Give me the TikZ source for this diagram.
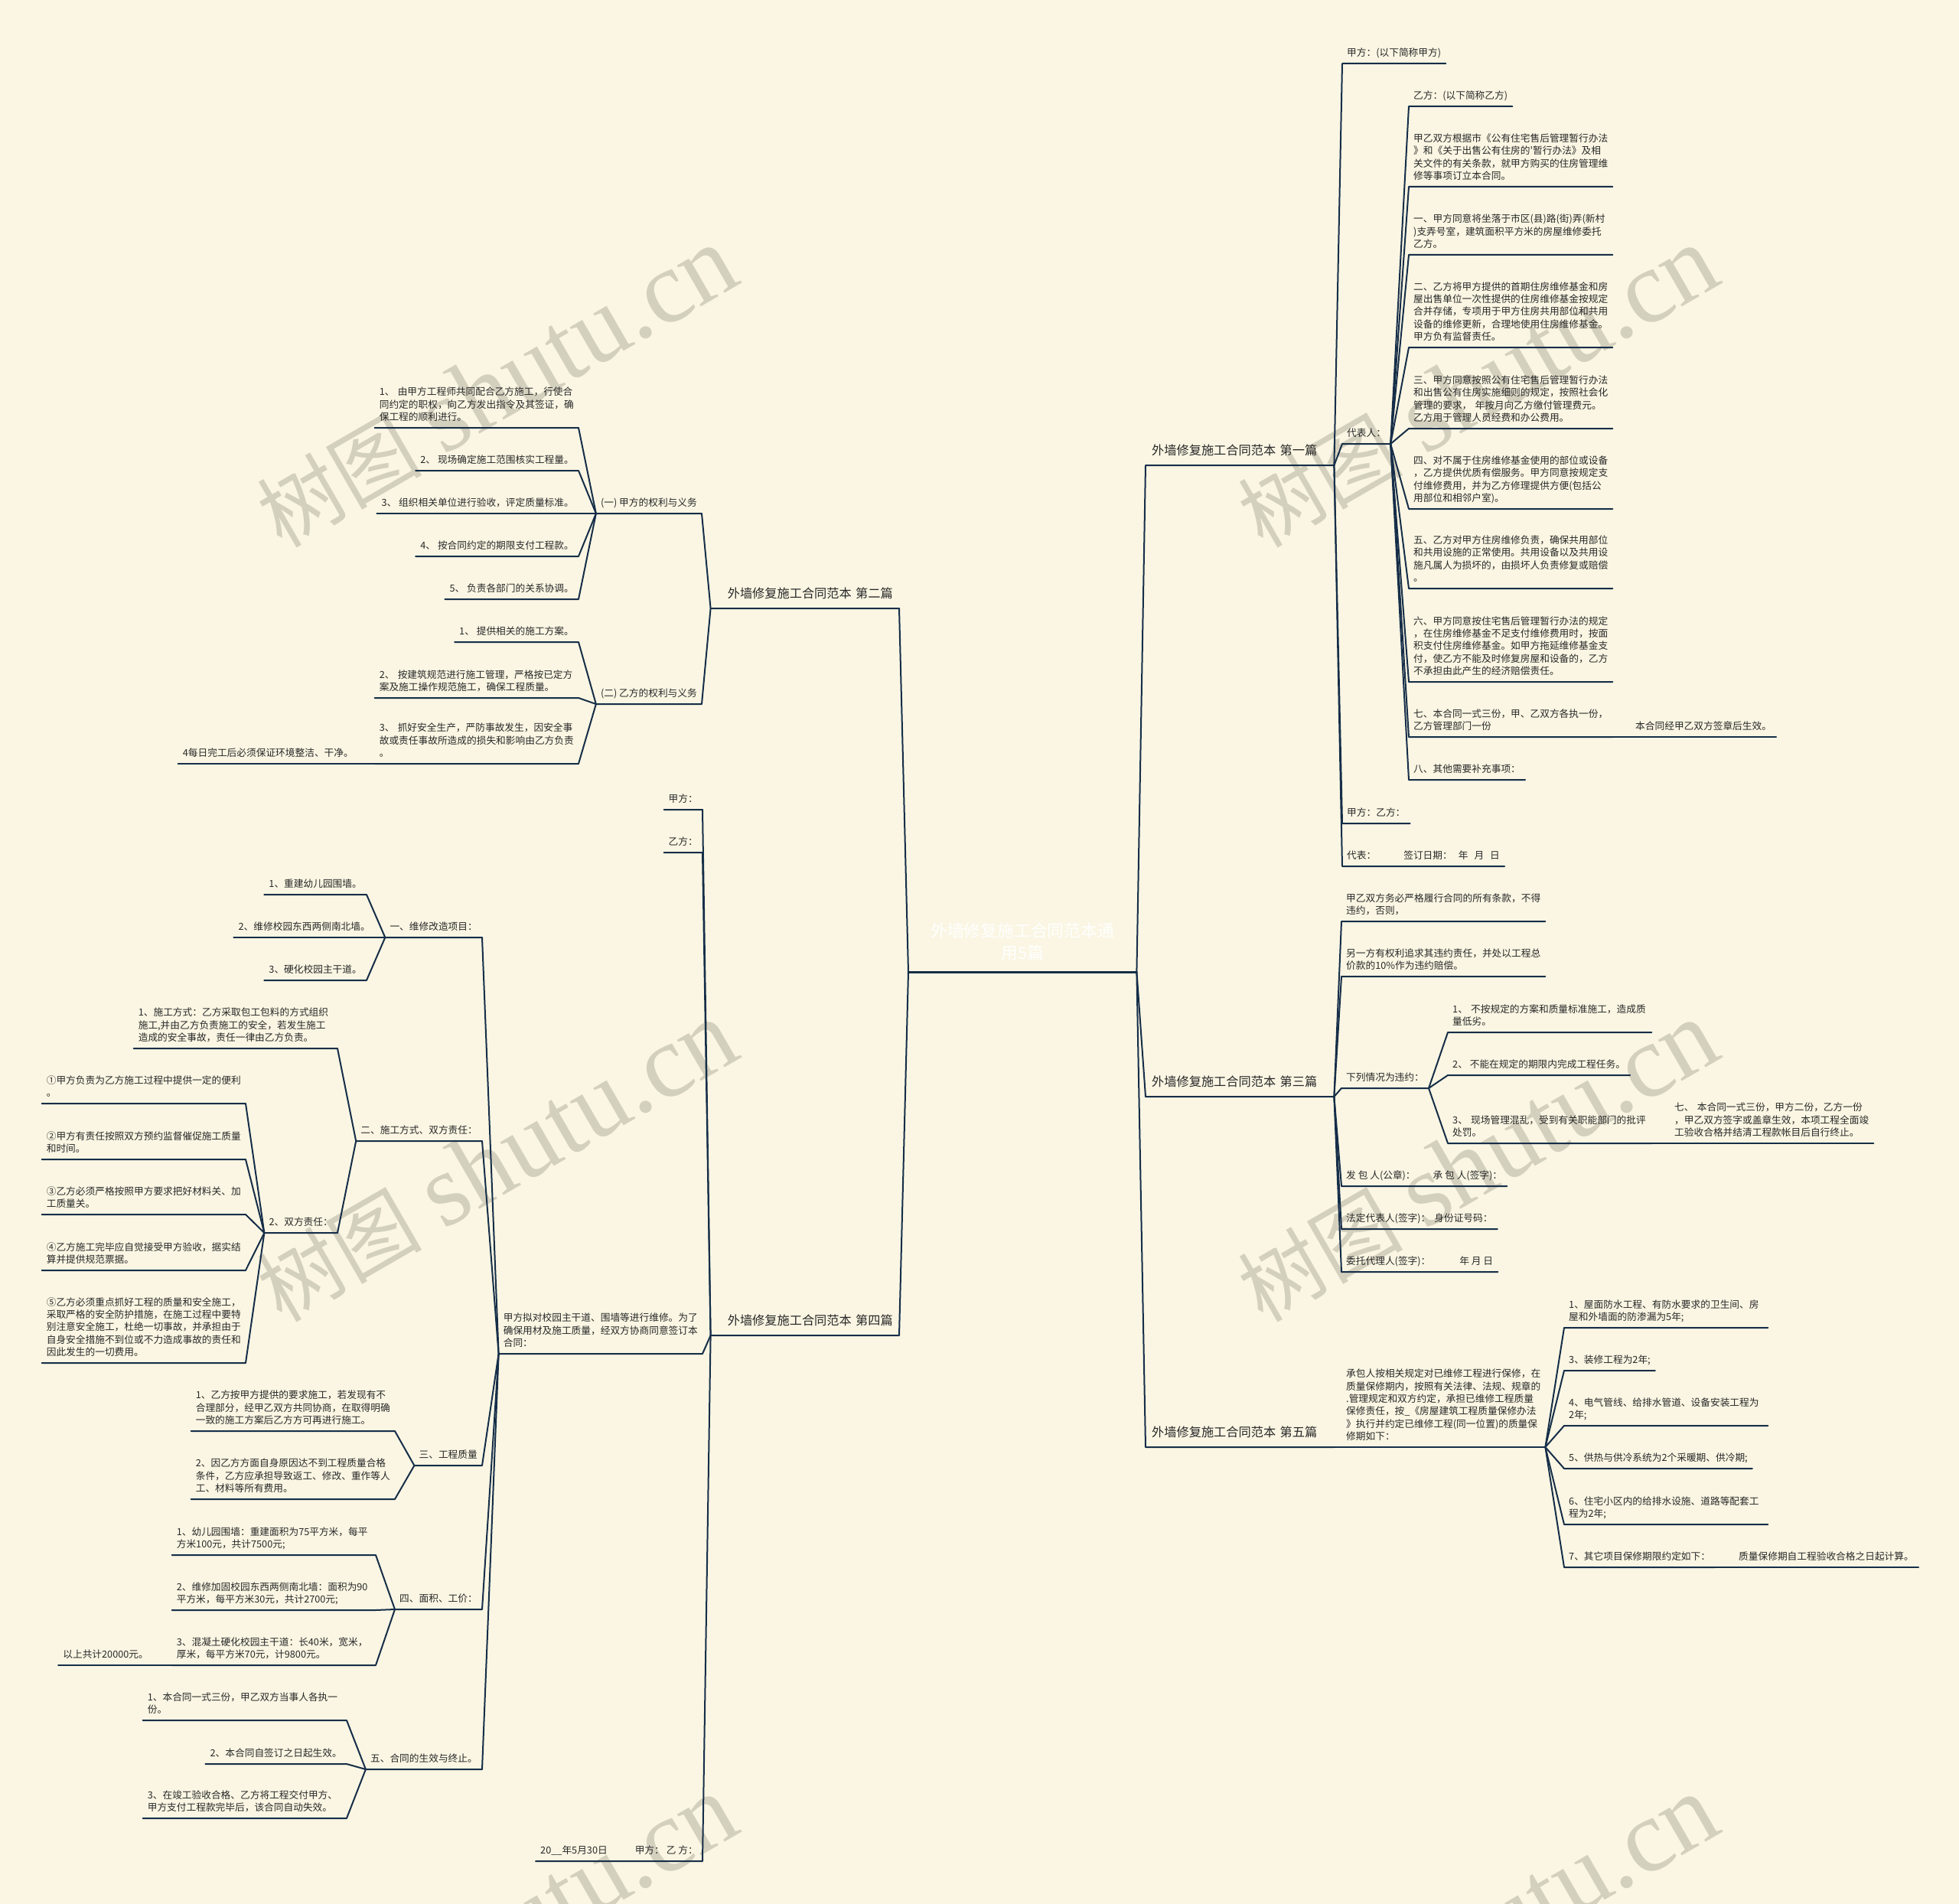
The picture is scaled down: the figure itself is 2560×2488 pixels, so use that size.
\documentclass[tikz,border=0pt]{standalone}
\usepackage{fontspec}
\newfontfamily\cjk{Noto Sans CJK SC}
\newfontfamily\serifwm{Liberation Serif}
\definecolor{paper}{RGB}{250,246,227}
\definecolor{ink}{RGB}{22,46,72}
\definecolor{words}{RGB}{40,40,40}
\definecolor{stamp}{RGB}{212,208,190}

\begin{document}
\begin{tikzpicture}[x=1pt,y=-1pt,
    link/.style={draw=ink,line width=2pt,line join=round,line cap=round},
    txt/.style={font=\cjk\fontsize{12.7}{16.3}\selectfont,text=words,
      inner xsep=6pt,inner ysep=4.6pt,align=left,execute at end node={\strut}},
    toleft/.style={txt,anchor=south east},
    toright/.style={txt,anchor=south west},
    longtxt/.style={text width=254pt},
    chapter/.style={font=\cjk\fontsize{16.2}{20}\selectfont,text=words,
      inner xsep=8pt,inner ysep=7pt,text width=230pt,execute at end node={\strut}},
    hub/.style={font=\cjk\fontsize{21.8}{29}\selectfont,text=white,
      inner xsep=8pt,inner ysep=8pt,text width=282pt,align=center,
      anchor=south west,execute at end node={\strut}},
    stampmark/.style={text=stamp,rotate=30,inner sep=0pt}]

    \useasboundingbox (0,0) rectangle (2560,2488);
    \fill[paper] (0,0) rectangle (2560,2488);% the paper
    \begin{scope}% watermark
    \clip (0,0) rectangle (2560,2488);
    \foreach \wx/\wy [count=\k] in {649/506,1931/506,649/1518,1931/1518,649/2530,1931/2530}
        \node[stampmark] (wm\k) at (\wx,\wy) {{\cjk\fontsize{108}{110}\selectfont 树图}\hspace{28pt}{\serifwm\fontsize{135}{140}\selectfont shutu.cn}};
    \end{scope}

    % title in the middle
    \node[hub] (root) at (1187,1270) {外墙修复施工合同范本通\\用5篇};
    \draw[link,line width=3pt] (root.south west) -- (root.south east);% title line

    % first contract, right
    \node[chapter,align=left,anchor=south west] (c1) at (1497,608) {外墙修复施工合同范本 第一篇};
    \draw[link] (root.south east) -- (c1.south west) -- (c1.south east);
    \node[toright] (a1) at (1754,83) {甲方：(以下简称甲方)};
    \node[toright] (a2) at (1754,580) {代表人：};
    \node[toright] (a3) at (1754,1076) {甲方：乙方：};
    \node[toright] (a4) at (1754,1132) {代表：\hspace{36pt}签订日期：\hspace{8pt}年\hspace{8pt}月\hspace{8pt}日};
    \draw[link] (c1.south east) -- (a1.south west) -- (a1.south east);
    \draw[link] (c1.south east) -- (a2.south west) -- (a2.south east);
    \draw[link] (c1.south east) -- (a3.south west) -- (a3.south east);
    \draw[link] (c1.south east) -- (a4.south west) -- (a4.south east);
    \node[toright] (b1) at (1841,139) {乙方：(以下简称乙方)};
    \node[toright,longtxt] (b2) at (1841,244) {甲乙双方根据市《公有住宅售后管理暂行办法\\》和《关于出售公有住房的'暂行办法》及相\\关文件的有关条款，就甲方购买的住房管理维\\修等事项订立本合同。};
    \node[toright,longtxt] (b3) at (1841,333) {一、甲方同意将坐落于市区(县)路(街)弄(新村\\)支弄号室，建筑面积平方米的房屋维修委托\\乙方。};
    \node[toright,longtxt] (b4) at (1841,454) {二、乙方将甲方提供的首期住房维修基金和房\\屋出售单位一次性提供的住房维修基金按规定\\合并存储，专项用于甲方住房共用部位和共用\\设备的维修更新，合理地使用住房维修基金。\\甲方负有监督责任。};
    \node[toright,longtxt] (b5) at (1841,560) {三、甲方同意按照公有住宅售后管理暂行办法\\和出售公有住房实施细则的规定，按照社会化\\管理的要求， 年按月向乙方缴付管理费元。\\乙方用于管理人员经费和办公费用。};
    \node[toright,longtxt] (b6) at (1841,665) {四、对不属于住房维修基金使用的部位或设备\\，乙方提供优质有偿服务。甲方同意按规定支\\付维修费用，并为乙方修理提供方便(包括公\\用部位和相邻户室)。};
    \node[toright,longtxt] (b7) at (1841,769) {五、乙方对甲方住房维修负责，确保共用部位\\和共用设施的正常使用。共用设备以及共用设\\施凡属人为损坏的，由损坏人负责修复或赔偿\\。};
    \node[toright,longtxt] (b8) at (1841,891) {六、甲方同意按住宅售后管理暂行办法的规定\\，在住房维修基金不足支付维修费用时，按面\\积支付住房维修基金。如甲方拖延维修基金支\\付，使乙方不能及时修复房屋和设备的，乙方\\不承担由此产生的经济赔偿责任。};
    \node[toright,longtxt] (b9) at (1841,963) {七、本合同一式三份，甲、乙双方各执一份，\\乙方管理部门一份};
    \node[toright] (b10) at (1841,1019) {八、其他需要补充事项：};
    \node[toright] (b9x) at (2131,963) {本合同经甲乙双方签章后生效。};
    \draw[link] (a2.south east) -- (b1.south west) -- (b1.south east);
    \draw[link] (a2.south east) -- (b2.south west) -- (b2.south east);
    \draw[link] (a2.south east) -- (b3.south west) -- (b3.south east);
    \draw[link] (a2.south east) -- (b4.south west) -- (b4.south east);
    \draw[link] (a2.south east) -- (b5.south west) -- (b5.south east);
    \draw[link] (a2.south east) -- (b6.south west) -- (b6.south east);
    \draw[link] (a2.south east) -- (b7.south west) -- (b7.south east);
    \draw[link] (a2.south east) -- (b8.south west) -- (b8.south east);
    \draw[link] (a2.south east) -- (b9.south west) -- (b9.south east);
    \draw[link] (a2.south east) -- (b10.south west) -- (b10.south east);
    \draw[link] (b9.south east) -- (b9x.south west) -- (b9x.south east);

    % third contract, right
    \node[chapter,align=left,anchor=south west] (c3) at (1497,1433) {外墙修复施工合同范本 第三篇};
    \draw[link] (root.south east) -- (c3.south west) -- (c3.south east);
    \node[toright,longtxt] (d1) at (1753,1204) {甲乙双方务必严格履行合同的所有条款，不得\\违约，否则，};
    \node[toright,longtxt] (d2) at (1753,1276) {另一方有权利追求其违约责任，并处以工程总\\价款的10\%作为违约赔偿。};
    \node[toright] (d3) at (1753,1422) {下列情况为违约：};
    \node[toright] (d4) at (1753,1550) {发 包 人(公章)：\hspace{23pt}承 包 人(签字)：};
    \node[toright] (d5) at (1753,1606) {法定代表人(签字)：\hspace{5pt}身份证号码：};
    \node[toright] (d6) at (1753,1662) {委托代理人(签字)：\hspace{38pt}年 月 日};
    \draw[link] (c3.south east) -- (d1.south west) -- (d1.south east);
    \draw[link] (c3.south east) -- (d2.south west) -- (d2.south east);
    \draw[link] (c3.south east) -- (d3.south west) -- (d3.south east);
    \draw[link] (c3.south east) -- (d4.south west) -- (d4.south east);
    \draw[link] (c3.south east) -- (d5.south west) -- (d5.south east);
    \draw[link] (c3.south east) -- (d6.south west) -- (d6.south east);
    \node[toright,longtxt] (e1) at (1892,1349) {1、 不按规定的方案和质量标准施工，造成质\\量低劣。};
    \node[toright] (e2) at (1892,1405) {2、 不能在规定的期限内完成工程任务。};
    \node[toright,longtxt] (e3) at (1892,1494) {3、 现场管理混乱，受到有关职能部门的批评\\处罚。};
    \node[toright,longtxt] (f1) at (2182,1494) {七、 本合同一式三份，甲方二份，乙方一份\\，甲乙双方签字或盖章生效，本项工程全面竣\\工验收合格并结清工程款帐目后自行终止。};
    \draw[link] (d3.south east) -- (e1.south west) -- (e1.south east);
    \draw[link] (d3.south east) -- (e2.south west) -- (e2.south east);
    \draw[link] (d3.south east) -- (e3.south west) -- (e3.south east);
    \draw[link] (e3.south east) -- (f1.south west) -- (f1.south east);

    % fifth contract, right
    \node[chapter,align=left,anchor=south west] (c5) at (1497,1891) {外墙修复施工合同范本 第五篇};
    \draw[link] (root.south east) -- (c5.south west) -- (c5.south east);
    \node[toright,longtxt] (g1) at (1753,1891) {承包人按相关规定对已维修工程进行保修，在\\质量保修期内，按照有关法律、法规、规章的\\.管理规定和双方约定，承担已维修工程质量\\保修责任，按\_《房屋建筑工程质量保修办法\\》执行并约定已维修工程(同一位置)的质量保\\修期如下：};
    \draw[link] (c5.south east) -- (g1.south west) -- (g1.south east);
    \node[toright,longtxt] (h1) at (2044,1735) {1、屋面防水工程、有防水要求的卫生间、房\\屋和外墙面的防渗漏为5年;};
    \node[toright] (h2) at (2044,1791) {3、装修工程为2年;};
    \node[toright,longtxt] (h3) at (2044,1863) {4、电气管线、给排水管道、设备安装工程为\\2年;};
    \node[toright] (h4) at (2044,1919) {5、供热与供冷系统为2个采暖期、供冷期;};
    \node[toright,longtxt] (h5) at (2044,1992) {6、住宅小区内的给排水设施、道路等配套工\\程为2年;};
    \node[toright] (h6) at (2044,2048) {7、其它项目保修期限约定如下：};
    \node[toright] (h6x) at (2266,2048) {质量保修期自工程验收合格之日起计算。};
    \draw[link] (g1.south east) -- (h1.south west) -- (h1.south east);
    \draw[link] (g1.south east) -- (h2.south west) -- (h2.south east);
    \draw[link] (g1.south east) -- (h3.south west) -- (h3.south east);
    \draw[link] (g1.south east) -- (h4.south west) -- (h4.south east);
    \draw[link] (g1.south east) -- (h5.south west) -- (h5.south east);
    \draw[link] (g1.south east) -- (h6.south west) -- (h6.south east);
    \draw[link] (h6.south east) -- (h6x.south west) -- (h6x.south east);

    % second contract, left
    \node[chapter,align=right,anchor=south east] (c2) at (1175,795) {外墙修复施工合同范本 第二篇};
    \draw[link] (root.south west) -- (c2.south east) -- (c2.south west);
    \node[toleft] (p1) at (917,671) {(一) 甲方的权利与义务};
    \node[toleft] (p2) at (917,920) {(二) 乙方的权利与义务};
    \draw[link] (c2.south west) -- (p1.south east) -- (p1.south west);
    \draw[link] (c2.south west) -- (p2.south east) -- (p2.south west);
    \node[toleft,longtxt] (q1) at (756,559) {1、 由甲方工程师共同配合乙方施工，行使合\\同约定的职权，向乙方发出指令及其签证，确\\保工程的顺利进行。};
    \node[toleft] (q2) at (756,615) {2、 现场确定施工范围核实工程量。};
    \node[toleft] (q3) at (756,671) {3、 组织相关单位进行验收，评定质量标准。};
    \node[toleft] (q4) at (756,727) {4、 按合同约定的期限支付工程款。};
    \node[toleft] (q5) at (756,783) {5、 负责各部门的关系协调。};
    \draw[link] (p1.south west) -- (q1.south east) -- (q1.south west);
    \draw[link] (p1.south west) -- (q2.south east) -- (q2.south west);
    \draw[link] (p1.south west) -- (q3.south east) -- (q3.south west);
    \draw[link] (p1.south west) -- (q4.south east) -- (q4.south west);
    \draw[link] (p1.south west) -- (q5.south east) -- (q5.south west);
    \node[toleft] (r1) at (756,839) {1、 提供相关的施工方案。};
    \node[toleft,longtxt] (r2) at (756,912) {2、 按建筑规范进行施工管理，严格按已定方\\案及施工操作规范施工，确保工程质量。};
    \node[toleft,longtxt] (r3) at (756,998) {3、 抓好安全生产，严防事故发生，因安全事\\故或责任事故所造成的损失和影响由乙方负责\\。};
    \node[toleft] (r3x) at (468,998) {4每日完工后必须保证环境整洁、干净。};
    \draw[link] (p2.south west) -- (r1.south east) -- (r1.south west);
    \draw[link] (p2.south west) -- (r2.south east) -- (r2.south west);
    \draw[link] (p2.south west) -- (r3.south east) -- (r3.south west);
    \draw[link] (r3.south west) -- (r3x.south east) -- (r3x.south west);

    % fourth contract, left
    \node[chapter,align=right,anchor=south east] (c4) at (1175,1745) {外墙修复施工合同范本 第四篇};
    \draw[link] (root.south west) -- (c4.south east) -- (c4.south west);
    \node[toleft] (t1) at (918,1058) {甲方：};
    \node[toleft] (t2) at (918,1114) {乙方：};
    \node[toleft,longtxt] (t3) at (918,1769) {甲方拟对校园主干道、围墙等进行维修。为了\\确保用材及施工质量，经双方协商同意签订本\\合同：};
    \node[toleft] (t4) at (918,2432) {20\_\_年5月30日\hspace{36pt}甲方：\hspace{3pt}乙 方：};
    \draw[link] (c4.south west) -- (t1.south east) -- (t1.south west);
    \draw[link] (c4.south west) -- (t2.south east) -- (t2.south west);
    \draw[link] (c4.south west) -- (t3.south east) -- (t3.south west);
    \draw[link] (c4.south west) -- (t4.south east) -- (t4.south west);
    \node[toleft] (u1) at (630,1225) {一、维修改造项目：};
    \node[toleft] (u2) at (630,1491) {二、施工方式、双方责任：};
    \node[toleft] (u3) at (630,1915) {三、工程质量};
    \node[toleft] (u4) at (630,2103) {四、面积、工价：};
    \node[toleft] (u5) at (630,2312) {五、合同的生效与终止。};
    \draw[link] (t3.south west) -- (u1.south east) -- (u1.south west);
    \draw[link] (t3.south west) -- (u2.south east) -- (u2.south west);
    \draw[link] (t3.south west) -- (u3.south east) -- (u3.south west);
    \draw[link] (t3.south west) -- (u4.south east) -- (u4.south west);
    \draw[link] (t3.south west) -- (u5.south east) -- (u5.south west);
    % repair items
    \node[toleft] (v1) at (479,1169) {1、重建幼儿园围墙。};
    \node[toleft] (v2) at (490,1225) {2、维修校园东西两侧南北墙。};
    \node[toleft] (v3) at (479,1281) {3、硬化校园主干道。};
    \draw[link] (u1.south west) -- (v1.south east) -- (v1.south west);
    \draw[link] (u1.south west) -- (v2.south east) -- (v2.south west);
    \draw[link] (u1.south west) -- (v3.south east) -- (v3.south west);
    % way of work and duties
    \node[toleft,longtxt] (w1) at (441,1370) {1、施工方式：乙方采取包工包料的方式组织\\施工,并由乙方负责施工的安全，若发生施工\\造成的安全事故，责任一律由乙方负责。};
    \node[toleft] (w2) at (441,1611) {2、双方责任：};
    \draw[link] (u2.south west) -- (w1.south east) -- (w1.south west);
    \draw[link] (u2.south west) -- (w2.south east) -- (w2.south west);
    \node[toleft,longtxt] (x1) at (321,1442) {①甲方负责为乙方施工过程中提供一定的便利\\。};
    \node[toleft,longtxt] (x2) at (321,1515) {②甲方有责任按照双方预约监督催促施工质量\\和时间。};
    \node[toleft,longtxt] (x3) at (321,1587) {③乙方必须严格按照甲方要求把好材料关、加\\工质量关。};
    \node[toleft,longtxt] (x4) at (321,1660) {④乙方施工完毕应自觉接受甲方验收，据实结\\算并提供规范票据。};
    \node[toleft,longtxt] (x5) at (321,1781) {⑤乙方必须重点抓好工程的质量和安全施工，\\采取严格的安全防护措施，在施工过程中要特\\别注意安全施工，杜绝一切事故，并承担由于\\自身安全措施不到位或不力造成事故的责任和\\因此发生的一切费用。};
    \draw[link] (w2.south west) -- (x1.south east) -- (x1.south west);
    \draw[link] (w2.south west) -- (x2.south east) -- (x2.south west);
    \draw[link] (w2.south west) -- (x3.south east) -- (x3.south west);
    \draw[link] (w2.south west) -- (x4.south east) -- (x4.south west);
    \draw[link] (w2.south west) -- (x5.south east) -- (x5.south west);
    % quality
    \node[toleft,longtxt] (y1) at (516,1870) {1、乙方按甲方提供的要求施工，若发现有不\\合理部分，经甲乙双方共同协商，在取得明确\\一致的施工方案后乙方方可再进行施工。};
    \node[toleft,longtxt] (y2) at (516,1959) {2、因乙方方面自身原因达不到工程质量合格\\条件，乙方应承担导致返工、修改、重作等人\\工、材料等所有费用。};
    \draw[link] (u3.south west) -- (y1.south east) -- (y1.south west);
    \draw[link] (u3.south west) -- (y2.south east) -- (y2.south west);
    % area and price
    \node[toleft,longtxt] (z1) at (491,2032) {1、幼儿园围墙：重建面积为75平方米，每平\\方米100元，共计7500元;};
    \node[toleft,longtxt] (z2) at (491,2104) {2、维修加固校园东西两侧南北墙：面积为90\\平方米，每平方米30元，共计2700元;};
    \node[toleft,longtxt] (z3) at (491,2176) {3、混凝土硬化校园主干道：长40米，宽米，\\厚米，每平方米70元，计9800元。};
    \node[toleft] (z3x) at (200,2176) {以上共计20000元。};
    \draw[link] (u4.south west) -- (z1.south east) -- (z1.south west);
    \draw[link] (u4.south west) -- (z2.south east) -- (z2.south west);
    \draw[link] (u4.south west) -- (z3.south east) -- (z3.south west);
    \draw[link] (z3.south west) -- (z3x.south east) -- (z3x.south west);
    % start and end of the contract
    \node[toleft,longtxt] (o1) at (453,2248) {1、本合同一式三份，甲乙双方当事人各执一\\份。};
    \node[toleft] (o2) at (453,2305) {2、本合同自签订之日起生效。};
    \node[toleft,longtxt] (o3) at (453,2376) {3、在竣工验收合格、乙方将工程交付甲方、\\甲方支付工程款完毕后，该合同自动失效。};
    \draw[link] (u5.south west) -- (o1.south east) -- (o1.south west);
    \draw[link] (u5.south west) -- (o2.south east) -- (o2.south west);
    \draw[link] (u5.south west) -- (o3.south east) -- (o3.south west);
\end{tikzpicture}
\end{document}
